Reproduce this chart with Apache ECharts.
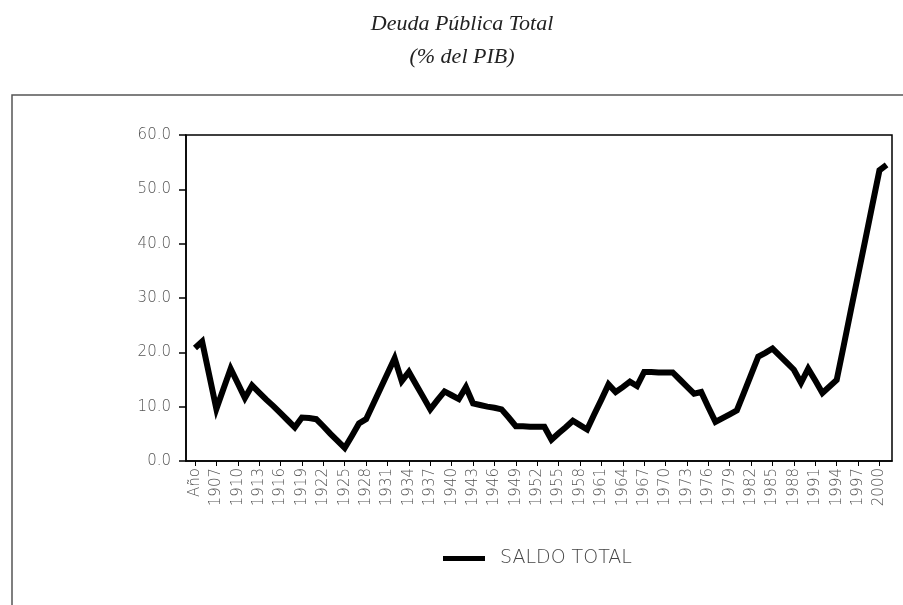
<!DOCTYPE html>
<html>
<head>
<meta charset="utf-8">
<script src="https://cdn.jsdelivr.net/npm/echarts@6/dist/echarts.min.js"></script>
<style>
html,body{margin:0;padding:0;background:#fff;}
#chart{width:903px;height:605px;}
</style>
</head>
<body>
<div id="chart"></div>
<script>
// Categories (first label "Año", then years 1905..2001)
const categories = ["Año",
"1905","1906","1907","1908","1909","1910","1911","1912","1913","1914",
"1915","1916","1917","1918","1919","1920","1921","1922","1923","1924",
"1925","1926","1927","1928","1929","1930","1931","1932","1933","1934",
"1935","1936","1937","1938","1939","1940","1941","1942","1943","1944",
"1945","1946","1947","1948","1949","1950","1951","1952","1953","1954",
"1955","1956","1957","1958","1959","1960","1961","1962","1963","1964",
"1965","1966","1967","1968","1969","1970","1971","1972","1973","1974",
"1975","1976","1977","1978","1979","1980","1981","1982","1983","1984",
"1985","1986","1987","1988","1989","1990","1991","1992","1993","1994",
"1995","1996","1997","1998","1999","2000","2001"];

// SALDO TOTAL (% del PIB)
const saldoTotal = [20.8,
22.0,15.8,9.6,13.3,17.0,14.3,11.6,13.9,12.6,11.3,
10.1,8.8,7.5,6.2,8.0,7.9,7.7,6.4,5.0,3.7,
2.4,4.6,6.9,7.7,10.5,13.3,16.1,18.9,14.7,16.4,
14.1,11.8,9.5,11.2,12.8,12.1,11.4,13.6,10.6,10.3,
10.0,9.8,9.5,8.0,6.4,6.4,6.3,6.3,6.3,3.9,
5.1,6.2,7.4,6.6,5.8,8.6,11.3,14.1,12.7,13.6,
14.6,13.8,16.4,16.4,16.3,16.3,16.3,15.0,13.7,12.4,
12.7,9.9,7.2,7.9,8.6,9.3,12.6,15.9,19.2,19.9,
20.7,19.4,18.1,16.8,14.4,17.0,14.8,12.5,13.7,14.9,
21.3,27.8,34.2,40.6,47.1,53.5,54.5];

// Labelled categories: every third one, starting at "Año"
const labelledIdx = categories.map((c, i) => i).filter(i => i % 3 === 0);

const yTicks = [0, 10, 20, 30, 40, 50, 60];

const chart = echarts.init(document.getElementById('chart'), null, {renderer: 'canvas'});
const labelFont = 'DejaVu Sans';

chart.setOption({
  animation: false,
  backgroundColor: '#fff',
  title: {
    text: 'Deuda Pública Total\n(% del PIB)',
    left: 462,
    top: 8,
    padding: 0,
    textAlign: 'center',
    textStyle: {
      fontFamily: 'Liberation Serif',
      fontStyle: 'italic',
      fontWeight: 'normal',
      fontSize: 22,
      lineHeight: 33,
      color: '#222'
    }
  },
  graphic: [{
    type: 'rect',
    silent: true,
    shape: {x: 12, y: 95, width: 1000, height: 1000},
    style: {fill: 'none', stroke: '#555', lineWidth: 1.5}
  }],
  legend: {
    data: ['SALDO TOTAL'],
    left: 443,
    top: 549,
    padding: 0,
    icon: 'rect',
    itemWidth: 42,
    itemHeight: 5,
    textStyle: {
      fontFamily: labelFont,
      fontWeight: 200,
      fontSize: 19,
      color: '#444',
      padding: [0, 0, 0, 10]
    }
  },
  grid: {
    left: 186,
    right: 11,
    top: 135,
    bottom: 144,
    show: true,
    borderColor: '#000',
    borderWidth: 1.5,
    containLabel: false
  },
  xAxis: {
    type: 'value',
    min: -1.26,
    max: categories.length - 1 + 0.76,
    splitLine: {show: false},
    axisLine: {show: true, onZero: false, lineStyle: {color: '#000', width: 1.5}},
    axisTick: {show: true, length: 5, customValues: labelledIdx, lineStyle: {color: '#000', width: 1}},
    axisLabel: {
      customValues: labelledIdx,
      rotate: 90,
      margin: 7,
      fontFamily: labelFont,
      fontWeight: 200,
      fontSize: 15,
      color: '#555',
      formatter: v => categories[Math.round(v)]
    }
  },
  yAxis: {
    type: 'value',
    min: yTicks[0],
    max: yTicks[yTicks.length - 1],
    interval: 10,
    splitLine: {show: false},
    axisLine: {show: true, onZero: false, lineStyle: {color: '#000', width: 1.5}},
    axisTick: {show: true, length: 7, lineStyle: {color: '#000', width: 1.5}},
    axisLabel: {
      margin: 15,
      fontFamily: labelFont,
      fontWeight: 200,
      fontSize: 15,
      color: '#555',
      formatter: v => v.toFixed(1)
    }
  },
  series: [{
    name: 'SALDO TOTAL',
    type: 'line',
    data: saldoTotal.map((v, i) => [i, v]),
    showSymbol: false,
    symbol: 'none',
    itemStyle: {color: '#000'},
    lineStyle: {color: '#000', width: 6, join: 'miter', cap: 'butt'}
  }]
});
</script>
</body>
</html>
